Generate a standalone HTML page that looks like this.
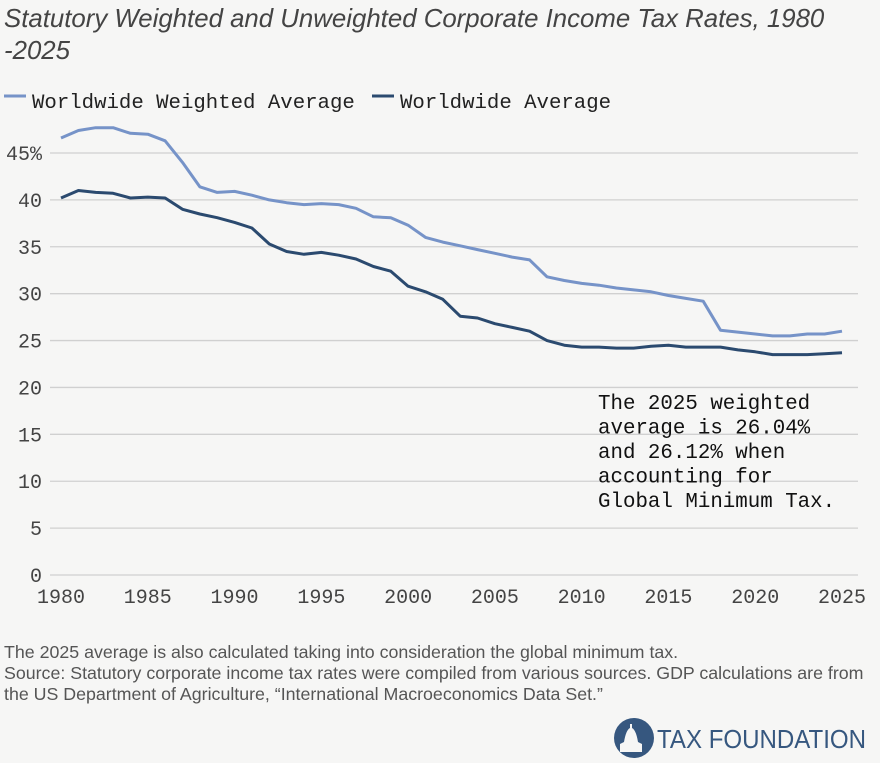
<!DOCTYPE html>
<html><head><meta charset="utf-8"><style>
body{margin:0;background:#f6f6f5;}
#wrap{position:relative;width:880px;height:763px;background:#f6f6f5;overflow:hidden;font-family:"Liberation Sans",sans-serif;}
.title{position:absolute;left:4px;top:3px;font-style:italic;font-size:25.8px;color:#444;line-height:32px;width:876px;white-space:nowrap;}
.note{position:absolute;left:4px;top:642px;font-size:17.8px;color:#555;line-height:21px;white-space:nowrap;}
</style></head><body>
<div id="wrap">
<div class="title">Statutory Weighted and Unweighted Corporate Income Tax Rates, 1980<br>-2025</div>
<svg id="chart" width="880" height="763" style="position:absolute;left:0;top:0"></svg>
<div class="note">The 2025 average is also calculated taking into consideration the global minimum tax.<br>Source: Statutory corporate income tax rates were compiled from various sources. GDP calculations are from<br>the US Department of Agriculture, “International Macroeconomics Data Set.”</div>
</div>
<script>
const years=[];for(let y=1980;y<=2025;y++)years.push(y);
const weighted=[46.6,47.4,47.7,47.7,47.1,47.0,46.3,44.0,41.4,40.8,40.9,40.5,40.0,39.7,39.5,39.6,39.5,39.1,38.2,38.1,37.3,36.0,35.5,35.1,34.7,34.3,33.9,33.6,31.8,31.4,31.1,30.9,30.6,30.4,30.2,29.8,29.5,29.2,26.1,25.9,25.7,25.5,25.5,25.7,25.7,26.0];
const unweighted=[40.2,41.0,40.8,40.7,40.2,40.3,40.2,39.0,38.5,38.1,37.6,37.0,35.3,34.5,34.2,34.4,34.1,33.7,32.9,32.4,30.8,30.2,29.4,27.6,27.4,26.8,26.4,26.0,25.0,24.5,24.3,24.3,24.2,24.2,24.4,24.5,24.3,24.3,24.3,24.0,23.8,23.5,23.5,23.5,23.6,23.7];
const yTicks=[0,5,10,15,20,25,30,35,40,45];
const yTickLabels=["0","5","10","15","20","25","30","35","40","45%"];
const xTicks=[1980,1985,1990,1995,2000,2005,2010,2015,2020,2025];
const NS="http://www.w3.org/2000/svg";
const svg=document.getElementById('chart');
const xS=v=>61+(v-1980)*(842-61)/45;
const yS=v=>575-v*(575-153)/45;
function mk(t,a,p){const e=document.createElementNS(NS,t);for(const k in a)e.setAttribute(k,a[k]);(p||svg).appendChild(e);return e;}
const mono='"Liberation Mono",monospace';
yTicks.forEach((v,i)=>{
 const l=mk('line',{x1:50,x2:858,y1:yS(v),y2:yS(v),stroke:'#d0d0d0','stroke-width':1.3});
 
 
 const t=mk('text',{x:42,y:yS(v)+7,'text-anchor':'end','font-family':mono,'font-size':20,fill:'#444'});
 t.textContent=yTickLabels[i];
 
 
});
xTicks.forEach(v=>{
 const t=mk('text',{x:xS(v),y:603,'text-anchor':'middle','font-family':mono,'font-size':20,fill:'#444'});
 t.textContent=v;
 
 
});
function line(vals,color,name){
 const d=vals.map((v,i)=>(i?'L':'M')+xS(years[i]).toFixed(1)+','+yS(v).toFixed(1)).join('');
 const p=mk('path',{d:d,fill:'none',stroke:color,'stroke-width':3,'stroke-linejoin':'round'});
 
 
}
line(weighted,'#7693c8','weighted-average-line');
line(unweighted,'#2b4a6f','worldwide-average-line');
[[0,'#7693c8','Worldwide Weighted Average','legend-weighted'],[368,'#2b4a6f','Worldwide Average','legend-average']].forEach(([dx,c,txt,n])=>{
 const g=mk('g',{});
 
 
 mk('line',{x1:4+dx,x2:26+dx,y1:96,y2:96,stroke:c,'stroke-width':3},g);
 const t=mk('text',{x:32+dx,y:108,'font-family':mono,'font-size':20.7,fill:'#222'},g);
 t.textContent=txt;
});
const ann=['The 2025 weighted','average is 26.04%','and 26.12% when','accounting for','Global Minimum Tax.'];
const ag=mk('g',{});


ann.forEach((s,i)=>{const t=mk('text',{x:598,y:409+i*24.5,'font-family':mono,'font-size':20.8,fill:'#111'},ag);t.textContent=s;});
const lg=mk('g',{});


mk('circle',{cx:634,cy:738,r:20,fill:'#36577f'},lg);
mk('path',{d:'M620,752 L620,744 L624,742 Q626,730 630,728 L630,724 L632,724 L632,728 Q636,730 638,742 L642,744 L642,752 Z',fill:'#f6f6f5'},lg);
const lt=mk('text',{x:657,y:748,'font-family':'"Liberation Sans",sans-serif','font-size':26,fill:'#36577f',textLength:209,lengthAdjust:'spacingAndGlyphs'},lg);
lt.textContent='TAX FOUNDATION';
</script>
</body></html>
